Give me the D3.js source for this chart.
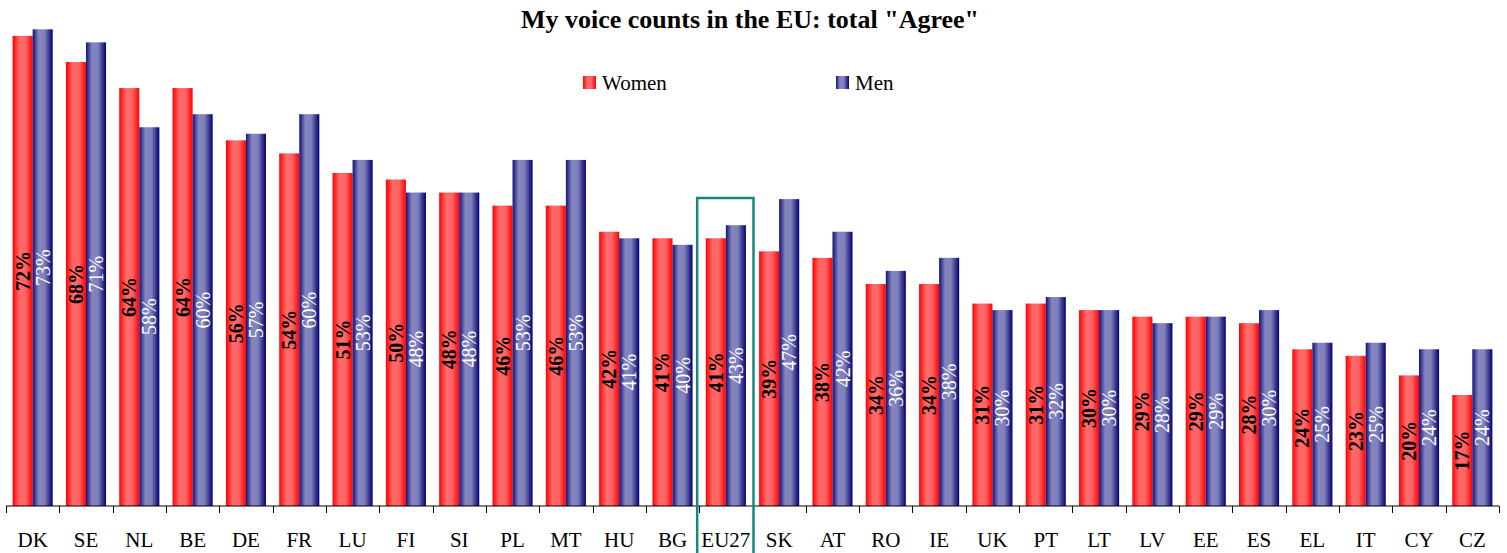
<!DOCTYPE html>
<html>
<head>
<meta charset="utf-8">
<script src="https://cdn.jsdelivr.net/npm/d3@7"></script>
<style>
  body { margin: 0; background: #fff; }
  svg { display: block; font-family: "Liberation Serif", "Times New Roman", serif; }
</style>
</head>
<body>
<div id="vis"></div>
<script>
// chart data
const countries = ["DK", "SE", "NL", "BE", "DE", "FR", "LU", "FI", "SI", "PL", "MT", "HU", "BG", "EU27",
  "SK", "AT", "RO", "IE", "UK", "PT", "LT", "LV", "EE", "ES", "EL", "IT", "CY", "CZ"];
const women = [72, 68, 64, 64, 56, 54, 51, 50, 48, 46, 46, 42, 41, 41, 39, 38, 34, 34, 31, 31, 30, 29, 29, 28, 24, 23, 20, 17];
const men = [73, 71, 58, 60, 57, 60, 53, 48, 48, 53, 53, 41, 40, 43, 47, 42, 36, 38, 30, 32, 30, 28, 29, 30, 25, 25, 24, 24];
const seriesNames = ["Women", "Men"];
const highlight = "EU27";

const width = 1507;
const height = 553;
const margin = { left: 6, right: 8, top: 16, bottom: 47 };
const baseline = height - margin.bottom; // 506

const svg = d3.select("#vis").append("svg")
  .attr("width", width)
  .attr("height", height);

// horizontal gradients for the bars
const defs = svg.append("defs");
function gradient(id, stops) {
  const g = defs.append("linearGradient").attr("id", id)
    .attr("x1", "0%").attr("x2", "100%").attr("y1", "0%").attr("y2", "0%");
  stops.forEach(s => g.append("stop").attr("offset", s[0]).attr("stop-color", s[1]));
}
gradient("gWomen", [["0%", "#ff0000"], ["35%", "#ff6b6b"], ["65%", "#ff6464"], ["100%", "#ff0000"]]);
gradient("gMen", [["0%", "#10107a"], ["30%", "#8585bf"], ["60%", "#7f7fba"], ["100%", "#000070"]]);
const fills = ["url(#gWomen)", "url(#gMen)"];

const x = d3.scaleBand()
  .domain(countries)
  .range([margin.left, width - margin.right])
  .paddingInner(0)
  .paddingOuter(0);

// two bars of ~20px in each category, the rest is space
const xs = d3.scaleBand()
  .domain([0, 1])
  .range([0, x.bandwidth()])
  .paddingOuter(0.33)
  .paddingInner(0);

const y = d3.scaleLinear()
  .domain([0, 75])
  .range([baseline, baseline - 75 * 6.53]);

// title
svg.append("text")
  .attr("x", 750)
  .attr("y", 28)
  .attr("text-anchor", "middle")
  .attr("font-weight", "bold")
  .attr("font-size", 26)
  .text('My voice counts in the EU: total "Agree"');

// legend
const legendX = [583, 836];
seriesNames.forEach((name, i) => {
  svg.append("rect")
    .attr("x", legendX[i]).attr("y", 76)
    .attr("width", 13).attr("height", 13)
    .attr("fill", fills[i]);
  svg.append("text")
    .attr("x", legendX[i] + 19).attr("y", 90)
    .attr("font-size", 21)
    .text(name);
});

// bars
const groups = svg.selectAll(".country")
  .data(countries.map((c, i) => ({ c, v: [women[i], men[i]] })))
  .enter()
  .append("g")
  .attr("class", "country")
  .attr("transform", d => `translate(${x(d.c)},0)`);

groups.selectAll("rect")
  .data(d => d.v.map((v, k) => ({ v, k })))
  .enter()
  .append("rect")
  .attr("x", d => xs(d.k))
  .attr("width", xs.bandwidth())
  .attr("y", d => y(d.v))
  .attr("height", d => baseline - y(d.v))
  .attr("fill", d => fills[d.k]);

// rotated value labels in the middle of each bar
groups.selectAll(".lbl")
  .data(d => d.v.map((v, k) => ({ v, k })))
  .enter()
  .append("text")
  .attr("class", "lbl")
  .attr("transform", d => {
    const cx = xs(d.k) + xs.bandwidth() / 2 + 7;
    const cy = (y(d.v) + baseline) / 2;
    return `translate(${cx},${cy}) rotate(-90)`;
  })
  .attr("text-anchor", "middle")
  .attr("font-size", 20)
  .attr("font-weight", d => d.k === 0 ? "bold" : "normal")
  .attr("fill", d => d.k === 0 ? "#000" : "#fff")
  .text(d => d.v + "%");

// x axis: baseline with ticks on category borders
const axis = svg.append("g");
axis.append("line")
  .attr("x1", x.range()[0]).attr("x2", x.range()[1])
  .attr("y1", baseline).attr("y2", baseline)
  .attr("stroke", "#000");
const borders = countries.map(c => x(c)).concat([x.range()[1]]);
axis.selectAll(".tick")
  .data(borders)
  .enter()
  .append("line")
  .attr("x1", d => Math.round(d) + 0.5).attr("x2", d => Math.round(d) + 0.5)
  .attr("y1", baseline).attr("y2", baseline + 7)
  .attr("stroke", "#000");
axis.selectAll(".cat")
  .data(countries)
  .enter()
  .append("text")
  .attr("x", d => x(d) + x.bandwidth() / 2)
  .attr("y", 547)
  .attr("text-anchor", "middle")
  .attr("font-size", 21)
  .text(d => d);

// box around the EU average
svg.append("rect")
  .attr("x", x(highlight) - 2)
  .attr("y", 198)
  .attr("width", x.bandwidth() + 3)
  .attr("height", 360)
  .attr("fill", "none")
  .attr("stroke", "#15877f")
  .attr("stroke-width", 2.5);
</script>
</body>
</html>
